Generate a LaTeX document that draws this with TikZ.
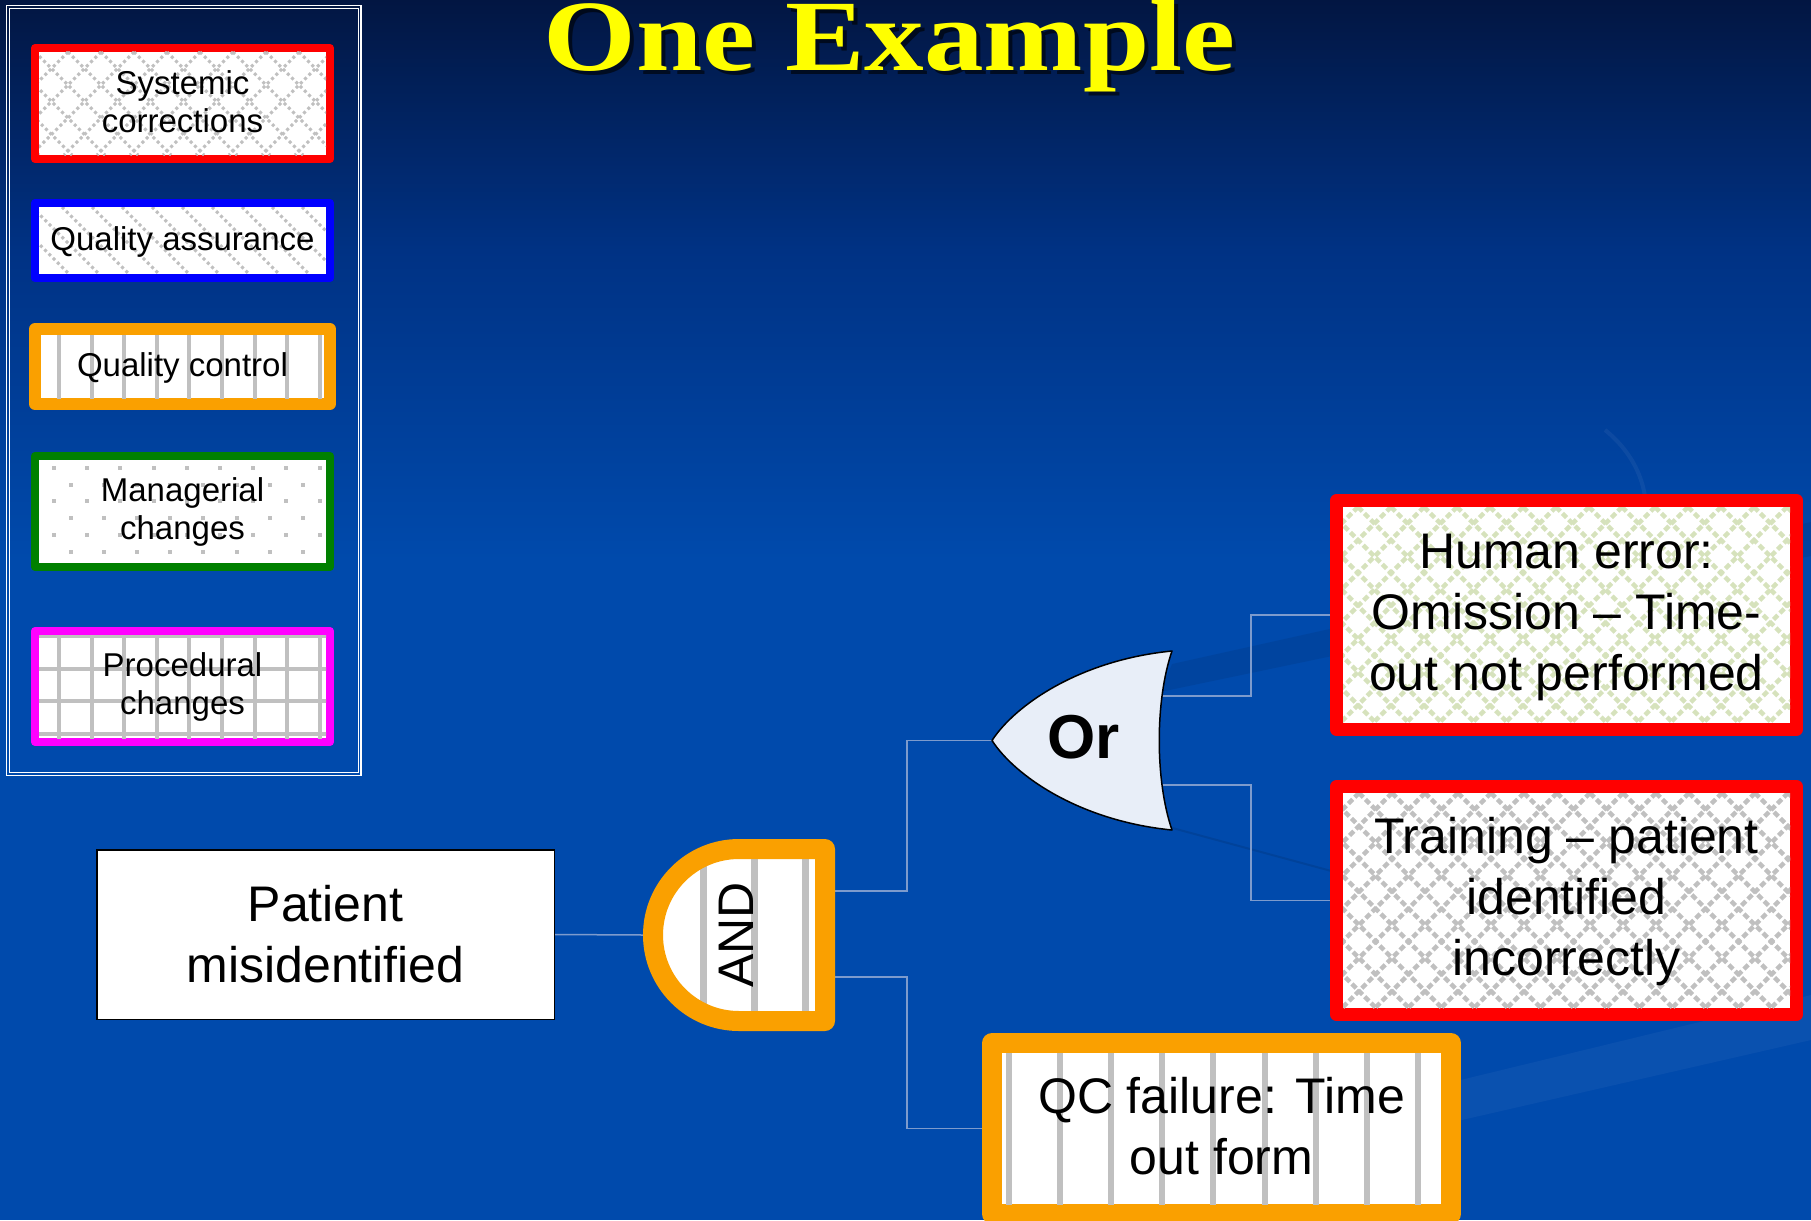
\documentclass[tikz,border=0pt]{standalone}
\usepackage{fontspec}
\setmainfont{Liberation Sans}
\newfontfamily\titlefont{Liberation Serif}
\usepackage{graphicx}
\usetikzlibrary{calc,backgrounds}

\definecolor{bgtop}{RGB}{2,22,66}
\definecolor{bgmid}{RGB}{0,50,132}
\definecolor{bgbot}{RGB}{0,74,172}
\definecolor{qorange}{RGB}{250,160,0}
\definecolor{hatchgray}{RGB}{192,192,192}
\definecolor{hatchgreen}{RGB}{214,226,188}
\definecolor{wirecol}{RGB}{125,155,205}
\definecolor{orfill}{RGB}{232,238,248}
\definecolor{mgreen}{RGB}{0,128,0}
\definecolor{pmagenta}{RGB}{255,0,255}
\definecolor{titleyellow}{RGB}{255,255,0}

% strut giving every text line the same height and depth
\newcommand\ystrut{\rule[-0.25em]{0pt}{1em}}

% diamond lattice of 45-degree lines inside a rectangle: x1,y1,x2,y2,spacing,style
\newcommand\latticefill[6]{%
  \begin{scope}
    \clip (#1,#2) rectangle (#3,#4);
    \pgfmathsetmacro\lfH{#4-#2}
    \pgfmathsetmacro\lfA{#1-\lfH}
    \pgfmathsetmacro\lfB{\lfA+#5}
    \pgfmathsetmacro\lfC{#3+\lfH}
    \foreach \t in {\lfA,\lfB,...,\lfC} {
      \draw[#6] (\t,#2) -- ++(\lfH,\lfH);
      \draw[#6] (\t,#2) -- ++(-\lfH,\lfH);
    }
  \end{scope}}

% single set of lines running down to the right inside a rectangle
\newcommand\slashfill[6]{%
  \begin{scope}
    \clip (#1,#2) rectangle (#3,#4);
    \pgfmathsetmacro\sfH{#4-#2}
    \pgfmathsetmacro\sfA{#1-\sfH}
    \pgfmathsetmacro\sfB{\sfA+#5}
    \foreach \t in {\sfA,\sfB,...,#3} {
      \draw[#6] (\t,#2) -- ++(\sfH,\sfH);
    }
  \end{scope}}

\begin{document}
\begin{tikzpicture}[x=1pt, y=-1pt,
  legbox/.style={draw, fill=white, line width=8pt, line join=round, inner sep=0pt, minimum width=295pt},
  mainbox/.style={draw, fill=white, line width=13pt, line join=round, inner sep=0pt},
  legtext/.style={font=\fontsize{33}{38}\selectfont, align=center, inner sep=0pt, text=black},
  maintext/.style={font=\fontsize{50}{61}\selectfont, align=center, inner sep=0pt, text=black},
  gatearea/.style={inner sep=0pt, outer sep=0pt},
  wire/.style={draw=wirecol, line width=1.5pt},
  checkline/.style={draw=#1, line width=4.5pt, dash pattern=on 6pt off 3pt},
  finecheck/.style={draw=hatchgray, line width=3pt, dash pattern=on 3pt off 3pt},
  stripe/.style={draw=hatchgray, line width=#1},
  stripe/.default=4pt,
  titletext/.style={font=\titlefont\bfseries\fontsize{101}{101}\selectfont, anchor=base, inner sep=0pt},
]
\useasboundingbox (0,0) rectangle (1811,1220);

% backdrop: dark navy to blue, with faint swooshes
\begin{pgfonlayer}{background}
  \shade[top color=bgtop, bottom color=bgmid] (0,0) rectangle (1811,250);
  \shade[top color=bgmid, bottom color=bgbot] (0,249.5) rectangle (1811,560);
  \fill[bgbot] (0,559.5) rectangle (1811,1220);
  \fill[black, opacity=0.07] (1172,664) -- (1811,522) -- (1811,556) -- (1160,692) -- cycle;
  \draw[black, opacity=0.1, line width=2pt] (1165,826) -- (1335,872);
  \fill[white, opacity=0.04] (1440,1085) -- (1811,995) -- (1811,1040) -- (1440,1125) -- cycle;
  \draw[white, opacity=0.05, line width=4pt] (1605,430) .. controls (1630,450) and (1642,475) .. (1645,497);
\end{pgfonlayer}

% title with drop shadow
\node[titletext, text=black, text opacity=0.6] (titleshadow) at (893.5,74.5) {\scalebox{1.18}[1]{One Example}};
\node[titletext, text=titleyellow] (title) at (889.5,70.5) {\scalebox{1.18}[1]{One Example}};

% legend frame
\draw[white, line width=1.4pt] (6.5,5.5) rectangle (361,775.5);
\draw[white, line width=1.1pt] (9.5,8.5) rectangle (358.5,772.5);

% legend: systemic corrections
\node[legbox, draw=red, minimum height=111pt] (sysbox) at (182.5,103.5) {};
\latticefill{39}{52}{326}{155}{33}{finecheck}
\node[legtext] (systxt) at (182.5,104.75) {\ystrut Systemic\\\ystrut corrections};

% legend: quality assurance
\node[legbox, draw=blue, minimum height=75pt] (qabox) at (182.5,240.5) {};
\slashfill{39}{207}{326}{274}{30}{finecheck}
\node[legtext] (qatxt) at (182.5,241.75) {\ystrut Quality assurance};

% legend: quality control
\node[legbox, draw=qorange, line width=12pt, minimum height=75pt] (qcbox) at (182.5,366.5) {};
\begin{scope}
  \clip (41,335) rectangle (324,398);
  \foreach \k in {0,...,8} \draw[stripe=4pt] (59+32.6*\k,330) -- (59+32.6*\k,405);
\end{scope}
\node[legtext] (qctxt) at (182.5,368.4) {\ystrut Quality control};

% legend: managerial changes
\node[legbox, draw=mgreen, minimum height=111pt] (mgbox) at (182.5,511.5) {};
\begin{scope}
  \clip (39,460) rectangle (326,563);
  \foreach \j in {0,...,5} {
    \pgfmathsetmacro\dy{466+16.7*\j}
    \pgfmathsetmacro\dx{52+mod(\j,2)*16.6}
    \foreach \i in {0,...,9} \fill[hatchgray] (\dx+33.2*\i,\dy) rectangle ++(4,4);
  }
\end{scope}
\node[legtext] (mgtxt) at (182.5,512.25) {\ystrut Managerial\\\ystrut changes};

% legend: procedural changes
\node[legbox, draw=pmagenta, minimum height=111pt] (prbox) at (182.5,686.5) {};
\begin{scope}
  \clip (39,635) rectangle (326,738);
  \foreach \k in {0,...,8} \draw[stripe=4pt] (59+32.6*\k,630) -- (59+32.6*\k,745);
  \foreach \k in {0,...,3} \draw[stripe=4pt] (35,636+32.6*\k) -- (330,636+32.6*\k);
\end{scope}
\node[legtext] (prtxt) at (182.5,687.25) {\ystrut Procedural\\\ystrut changes};

% top event
\node[draw=black, fill=white, line width=1.5pt, inner sep=0pt, minimum width=457.5pt, minimum height=169.5pt] (pat) at (325.5,934.5) {};
\node[maintext] (pattxt) at (325.5,939) {\ystrut Patient\\\ystrut misidentified};

% basic events
\node[mainbox, draw=red, minimum width=460pt, minimum height=229pt] (hum) at (1566.5,615) {};
\latticefill{1343}{507}{1790}{723}{33}{checkline=hatchgreen}
\node[maintext] (humtxt) at (1566.5,616.8) {\ystrut Human error:\\\ystrut Omission – Time-\\\ystrut out not performed};

\node[mainbox, draw=red, minimum width=460pt, minimum height=228pt] (trn) at (1566.5,900.5) {};
\latticefill{1343}{793}{1790}{1008}{33}{checkline=hatchgray}
\node[maintext] (trntxt) at (1566.5,901.8) {\ystrut Training – patient\\\ystrut identified\\\ystrut incorrectly};

\node[mainbox, draw=qorange, line width=20pt, minimum width=459pt, minimum height=171pt] (qcf) at (1221.5,1128.5) {};
\begin{scope}
  \clip (1002,1053) rectangle (1441,1204);
  \foreach \k in {0,...,8} \draw[stripe=6pt] (1009+51.1*\k,1045) -- (1009+51.1*\k,1215);
\end{scope}
\node[maintext] (qcftxt) at (1221.5,1131) {\ystrut QC failure: Time\\\ystrut out form};

% AND gate
\node[gatearea, minimum width=192pt, minimum height=192pt] (andg) at (739,935) {};
\begin{scope}
  \clip (825,849) -- (739,849) arc[start angle=90, end angle=270, radius=86pt] -- (825,1021) -- cycle;
  \fill[white] (640,835) rectangle (840,1035);
  \foreach \sx in {703,754,805} \draw[stripe=7pt] (\sx,830) -- (\sx,1040);
\end{scope}
\draw[qorange, line width=20pt, line join=round] (825,849) -- (739,849) arc[start angle=90, end angle=270, radius=86pt] -- (825,1021) -- cycle;
\node[font=\fontsize{50}{50}\selectfont, rotate=90, inner sep=0pt] (andtxt) at (736.5,935) {AND};

% OR gate
\node[gatearea, minimum width=180pt, minimum height=179pt] (org) at (1082,740.5) {};
\draw[black, line width=1.5pt, fill=orfill, line join=round]
  (992,740.5) .. controls (1015,705) and (1080,660) .. (1172,651)
  .. controls (1155,700) and (1155,781) .. (1172,830)
  .. controls (1080,821) and (1015,776) .. (992,740.5) -- cycle;
\node[font=\bfseries\fontsize{62}{62}\selectfont, inner sep=0pt] (ortxt) at (1083.5,737) {Or};

% connectors, kept behind the boxes and gates
\begin{pgfonlayer}{background}
  \draw[wire] (pat.east) -- (andg.west);
  \draw[wire] ($(andg.east)+(0,-44)$) -- ++(72,0) |- (org.west);
  \draw[wire] ($(andg.east)+(0,42)$) -- ++(72,0) |- (qcf.west);
  \draw[wire] ($(org.center)+(80,-44.5)$) -- ++(89,0) |- (hum.west);
  \draw[wire] ($(org.center)+(80,44.5)$) -- ++(89,0) |- (trn.west);
\end{pgfonlayer}
\end{tikzpicture}
\end{document}
